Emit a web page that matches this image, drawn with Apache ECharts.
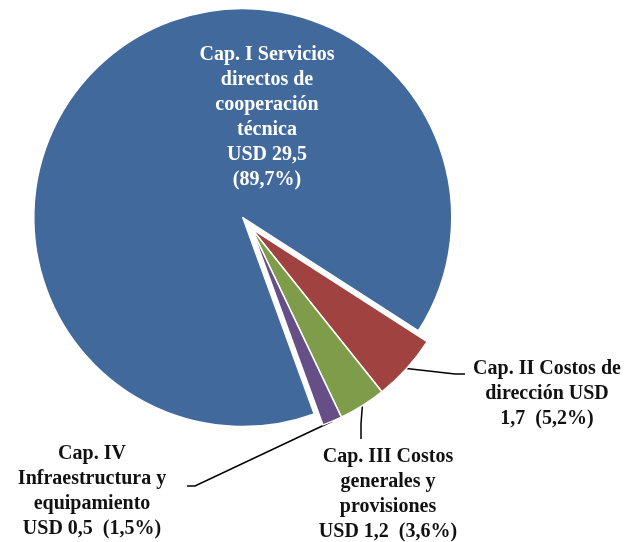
<!DOCTYPE html>
<html>
<head>
<meta charset="utf-8">
<title>Presupuesto por capítulo</title>
<script src="https://cdn.jsdelivr.net/npm/echarts@6/dist/echarts.min.js"></script>
<style>
  html, body { margin: 0; padding: 0; background: #fff; }
  #chart { width: 627px; height: 542px; }
</style>
</head>
<body>
<div id="chart"></div>
<script>
// datos del gráfico
const categories = [
  "Cap. I Servicios\ndirectos de\ncooperación\ntécnica",
  "Cap. II Costos de\ndirección",
  "Cap. III Costos\ngenerales y\nprovisiones",
  "Cap. IV\nInfraestructura y\nequipamiento"
];
const values = [29.5, 1.7, 1.2, 0.5];
const percents = ["89,7%", "5,2%", "3,6%", "1,5%"];
const colors = ["#42699c", "#a0423f", "#7f9c4a", "#664f86"];

// posiciones de las etiquetas (centro) y quiebre de las líneas guía
const labelPos = [[267, 117], [547, 394], [388, 494], [92, 491]];
const lineKnee = [null, [[455, 374], [465, 374]], [[361, 424], [361, 439]], [[195, 486], [187, 486]]];

const labelTexts = [
  categories[0] + "\nUSD 29,5\n(" + percents[0] + ")",
  "Cap. II Costos de\ndirección USD\n1,7  (" + percents[1] + ")",
  categories[2] + "\nUSD 1,2  (" + percents[2] + ")",
  categories[3] + "\nUSD 0,5  (" + percents[3] + ")"
];

const labelFont = "bold 20px 'Liberation Serif'";

const chart = echarts.init(document.getElementById("chart"));

chart.setOption({
  animation: false,
  backgroundColor: "#fff",
  // la porción seleccionada no respeta labelLayout, así que su texto va aparte
  graphic: [{
    type: "text",
    x: labelPos[0][0],
    y: labelPos[0][1],
    z: 10,
    style: {
      text: labelTexts[0],
      font: labelFont,
      lineHeight: 25,
      fill: "#fff",
      align: "center",
      verticalAlign: "middle"
    }
  }],
  series: [{
    type: "pie",
    center: [251.5, 228.5],
    radius: 209,
    startAngle: 290,
    clockwise: true,
    avoidLabelOverlap: false,
    selectedMode: "single",
    selectedOffset: 14,
    emphasis: { disabled: true },
    itemStyle: {
      borderColor: "#fff",
      borderWidth: 1.5
    },
    label: {
      show: true,
      position: "outside",
      color: "#111",
      fontFamily: "Liberation Serif",
      fontWeight: "bold",
      fontSize: 20,
      lineHeight: 25,
      align: "center",
      formatter: function (p) {
        return labelTexts[p.dataIndex];
      }
    },
    labelLine: {
      show: true,
      lineStyle: { color: "#000", width: 1.5 }
    },
    labelLayout: function (params) {
      const i = params.dataIndex;
      const out = {
        x: labelPos[i][0],
        y: labelPos[i][1],
        align: "center",
        verticalAlign: "middle"
      };
      if (lineKnee[i] && params.labelLinePoints) {
        out.labelLinePoints = [params.labelLinePoints[0], lineKnee[i][0], lineKnee[i][1]];
      }
      return out;
    },
    data: values.map(function (v, i) {
      const item = {
        name: categories[i],
        value: v,
        itemStyle: { color: colors[i] }
      };
      if (i === 0) {
        item.selected = true;
        item.label = { show: false };
        item.labelLine = { show: false };
      }
      return item;
    })
  }]
});
</script>
</body>
</html>
